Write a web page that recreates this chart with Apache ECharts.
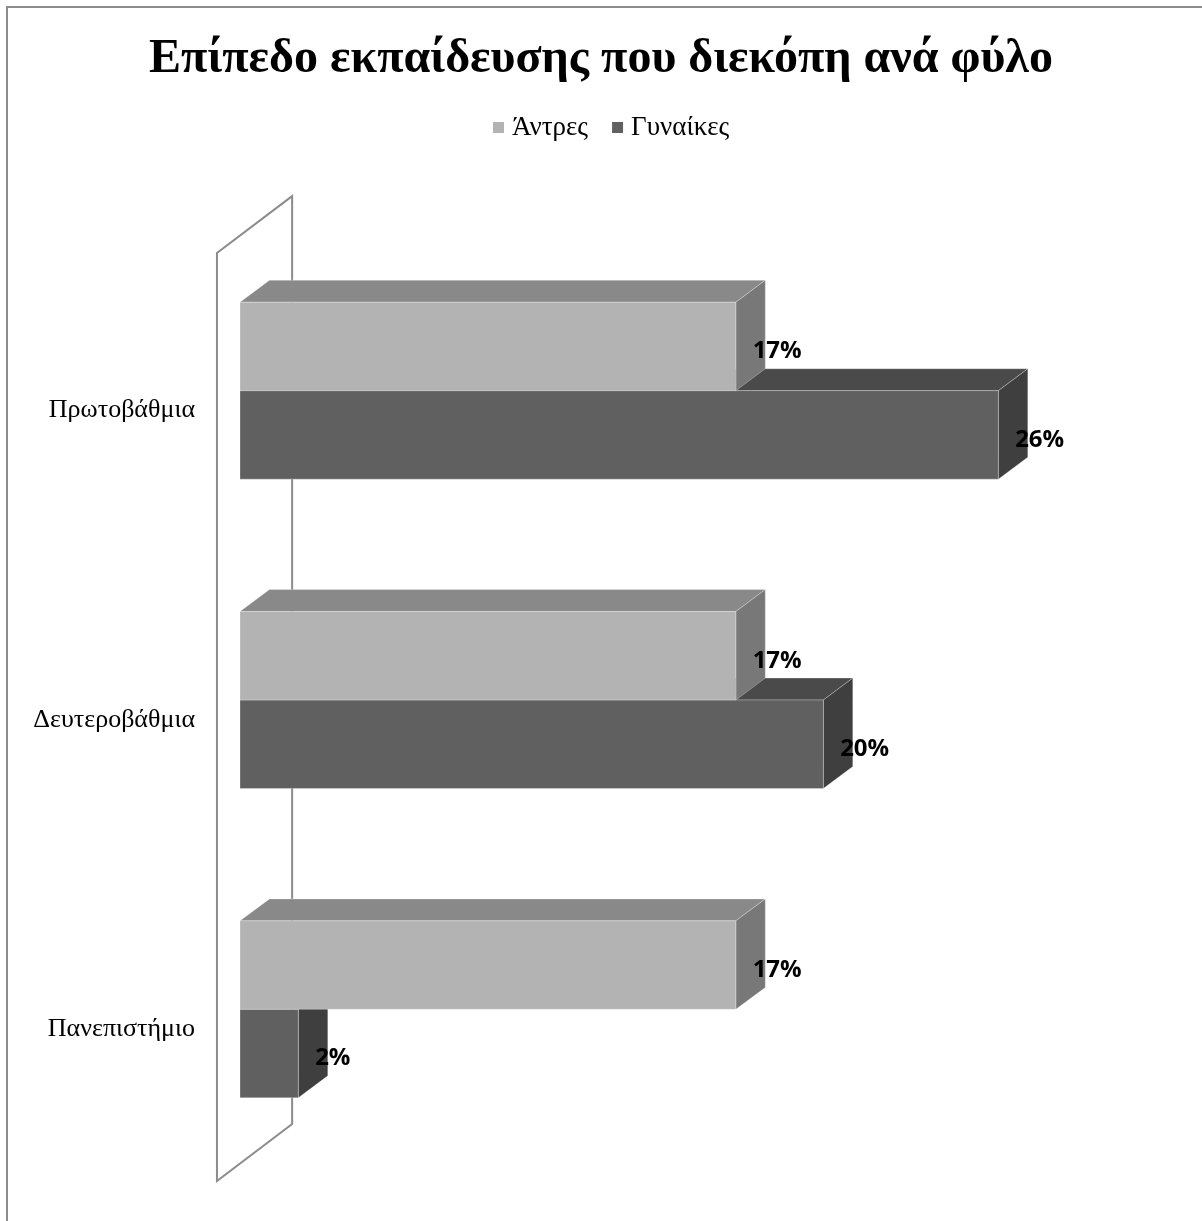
<!DOCTYPE html>
<html>
<head>
<meta charset="utf-8">
<title>Επίπεδο εκπαίδευσης που διεκόπη ανά φύλο</title>
<script src="https://cdn.jsdelivr.net/npm/echarts@6/dist/echarts.min.js"></script>
<style>
  html, body { margin: 0; padding: 0; background: #ffffff; }
  #chart { width: 1202px; height: 1221px; }
</style>
</head>
<body>
<div id="chart"></div>
<script>
// Education level at which studies stopped, by gender (percent)
const categories = ['Πρωτοβάθμια', 'Δευτεροβάθμια', 'Πανεπιστήμιο'];
const seriesNames = ['Άντρες', 'Γυναίκες'];
const men = [17, 17, 17];
const women = [26, 20, 2];

// face shades for the extruded bars: front, top, side
const shades = [
  { front: '#b3b3b3', top: '#898989', side: '#787878' },
  { front: '#606060', top: '#4a4a4a', side: '#3f3f3f' }
];

const SERIF = '"Liberation Serif", "Times New Roman", serif';
const SANS = '"Open Sans", "Noto Sans", sans-serif';

// one bar as a box: front rectangle, top face and right face, plus value label
function barRenderer(slot) {
  return function (params, api) {
    const cat = api.value(1);
    const val = api.value(0);
    const p0 = api.coord([0, cat]);
    const p1 = api.coord([val, cat]);
    const band = api.size([0, 1])[1];
    const h = band * 0.286;
    const dx = h * 0.333;
    const dy = h * 0.248;
    const x0 = p0[0];
    const x1 = p1[0];
    const yT = slot === 0 ? p0[1] - h : p0[1];
    const yB = yT + h;
    const c = shades[slot];
    const edge = { stroke: 'rgba(255,255,255,0.35)', lineWidth: 0.8 };
    return {
      type: 'group',
      children: [
        { type: 'polygon', shape: { points: [[x0, yT], [x0 + dx, yT - dy], [x1 + dx, yT - dy], [x1, yT]] },
          style: Object.assign({ fill: c.top }, edge) },
        { type: 'polygon', shape: { points: [[x1, yT], [x1 + dx, yT - dy], [x1 + dx, yB - dy], [x1, yB]] },
          style: Object.assign({ fill: c.side }, edge) },
        { type: 'rect', shape: { x: x0, y: yT, width: x1 - x0, height: h },
          style: Object.assign({ fill: c.front }, edge) },
        { type: 'text', z2: 10,
          style: { x: x1 + h * 0.19, y: yT + h / 2 + 5, text: val + '%',
                   fill: '#000000', font: 'bold 24px ' + SANS,
                   align: 'left', verticalAlign: 'middle' } }
      ]
    };
  };
}

// side wall behind the category axis
function wallRenderer(params, api) {
  const cs = params.coordSys;
  const band = cs.height / categories.length;
  const sx = band * 0.0745, sy = band * 0.055;   // front plane shift
  const wx = band * 0.243, wy = band * 0.184;    // wall depth
  const fx = cs.x - sx;
  const top = cs.y + sy;
  const bot = cs.y + cs.height + sy;
  return {
    type: 'polygon',
    shape: { points: [[fx, top], [fx, bot], [fx + wx, bot - wy], [fx + wx, top - wy]] },
    style: { fill: 'none', stroke: '#8c8c8c', lineWidth: 2 }
  };
}

const chart = echarts.init(document.getElementById('chart'), null, { renderer: 'canvas' });

chart.setOption({
  backgroundColor: '#ffffff',
  animation: false,
  title: {
    text: 'Επίπεδο εκπαίδευσης που διεκόπη ανά φύλο',
    left: 'center',
    top: 31,
    textStyle: { fontFamily: SERIF, fontWeight: 'bold', fontSize: 48, color: '#000000' }
  },
  legend: {
    data: seriesNames,
    top: 114,
    left: 493,
    padding: 0,
    icon: 'rect',
    itemWidth: 11,
    itemHeight: 11,
    itemGap: 24,
    textStyle: { fontFamily: SERIF, fontSize: 27, color: '#000000', padding: [0, 0, 0, 3] }
  },
  grid: { left: 240, right: 87, top: 236, bottom: 57, containLabel: false },
  xAxis: {
    type: 'value', min: 0, max: 30,
    show: false
  },
  yAxis: {
    type: 'category', data: categories, inverse: true,
    axisLine: { show: false }, axisTick: { show: false }, splitLine: { show: false },
    axisLabel: { fontFamily: SERIF, fontSize: 26, color: '#000000', margin: 45,
                 verticalAlign: 'top', lineHeight: 40 }
  },
  graphic: [
    { type: 'rect', shape: { x: 7, y: 7, width: 1220, height: 1230 },
      style: { fill: 'none', stroke: '#8c8c8c', lineWidth: 2 }, z: 100, silent: true }
  ],
  series: [
    { type: 'custom', name: 'wall', data: [[0, 0]], renderItem: wallRenderer, z: 1, silent: true },
    { type: 'custom', name: seriesNames[0], itemStyle: { color: shades[0].front },
      data: men.map((v, i) => [v, i]), encode: { x: 0, y: 1 },
      renderItem: barRenderer(0), z: 4 },
    { type: 'custom', name: seriesNames[1], itemStyle: { color: shades[1].front },
      data: women.map((v, i) => [v, i]), encode: { x: 0, y: 1 },
      renderItem: barRenderer(1), z: 3 }
  ]
});
</script>
</body>
</html>
